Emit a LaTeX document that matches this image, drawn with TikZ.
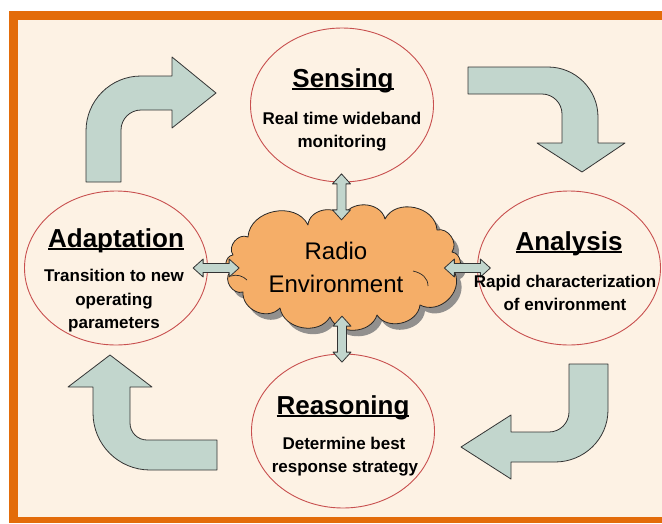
\documentclass[tikz,border=0pt]{standalone}
\usepackage{fontspec}
\setmainfont{Liberation Sans}
\usetikzlibrary{shapes.geometric,calc}
\definecolor{frameor}{HTML}{E36C0A}
\definecolor{cream}{HTML}{FDF2E4}
\definecolor{ellred}{HTML}{C8504F}
\definecolor{sage}{HTML}{C2D6CD}
\definecolor{cloudor}{HTML}{F5AE68}
\newlength\ulw
\newcommand\myul[1]{\settowidth\ulw{#1}\rlap{\rule[-2.6pt]{\ulw}{1.6pt}}#1}
\newcommand\cloudpath{(248,237) to[bend left=75,looseness=1.15] (308,225) to[bend left=75,looseness=1.15] (343,218)
  to[bend left=75,looseness=1.15] (385,219) to[bend left=75,looseness=1.15] (437,230)
  to[bend left=70,looseness=1.1] (452,252) to[bend left=75,looseness=1.15] (455,273)
  to[bend left=70,looseness=1.15] (420,305) to[bend left=70,looseness=1.1] (377,315)
  to[bend left=70,looseness=1.1] (330,317) to[bend left=70,looseness=1.1] (280,308)
  to[bend left=70,looseness=1.15] (243,292) to[bend left=75,looseness=1.15] (230,272)
  to[bend left=75,looseness=1.15] (233,255) to[bend left=75,looseness=1.15] (248,237) -- cycle}
\begin{document}
\begin{tikzpicture}[x=1pt,y=-1pt,
  stage/.style={ellipse, draw=ellred, line width=0.9pt, fill=cream, minimum width=183pt, minimum height=154pt, inner sep=0pt},
  ttl/.style={anchor=base, font=\fontsize{26}{30}\selectfont\bfseries, inner sep=0pt},
  bodytxt/.style={anchor=base, font=\fontsize{17}{20}\selectfont\bfseries, inner sep=0pt},
  cloudtxt/.style={anchor=base, font=\fontsize{24}{28}\selectfont, inner sep=0pt},
  bigarrow/.style={draw=black!80, line width=0.8pt, fill=sage, line join=round},
  darrow/.pic={\draw[bigarrow] (-23,0) -- (-13,-9) -- (-13,-4.5) -- (13,-4.5) -- (13,-9) -- (23,0) -- (13,9) -- (13,4.5) -- (-13,4.5) -- (-13,9) -- cycle;}
]
\useasboundingbox (0,0) rectangle (662,523);
\fill[white] (0,0) rectangle (662,523);
\fill[frameor] (9,11) rectangle (662,523);
\fill[cream] (18,20) rectangle (662,517);

% stages
\node[stage] (sens) at (342,105) {};
\node[stage] (anal) at (569,268) {};
\node[stage] (adapt) at (116,268) {};
\node[stage] (reas) at (343,431) {};

% cloud
\node[ellipse, minimum width=233pt, minimum height=113pt, inner sep=0pt] (cloud) at (341,268) {};
\fill[black!50, opacity=0.85, shift={(5,6)}] \cloudpath;
\draw[black!85, line width=0.8pt, fill=cloudor, line join=round] \cloudpath;
\draw[black!85, line width=0.7pt] (231,276) .. controls (237,274) and (243,276) .. (247,280);
\draw[black!85, line width=0.7pt] (413,271) .. controls (422,273) and (428,278) .. (428,286);

% double arrows
\pic[rotate=90] at ($(sens.south)!0.5!(cloud.north)$) {darrow};
\pic[rotate=90] at ($(reas.north)!0.5!(cloud.south)$) {darrow};
\pic at ($(adapt.east)!0.5!(cloud.west)$) {darrow};
\pic at ($(anal.west)!0.5!(cloud.east)$) {darrow};

% texts
\node[cloudtxt] (rad1) at (336,259) {Radio};
\node[cloudtxt] (rad2) at (336,292) {Environment};

\node[ttl] (senst) at (343,87) {\myul{Sensing}};
\node[bodytxt] (sens1) at (342,124) {Real time wideband};
\node[bodytxt] (sens2) at (342,147) {monitoring};

\node[ttl] (analt) at (569,250) {\myul{Analysis}};
\node[bodytxt] (anal1) at (565,287) {Rapid characterization};
\node[bodytxt] (anal2) at (565,310) {of environment};

\node[ttl] (adaptt) at (116,247) {\myul{Adaptation}};
\node[bodytxt] (adapt1) at (114,281) {Transition to new};
\node[bodytxt] (adapt2) at (114,305) {operating};
\node[bodytxt] (adapt3) at (114,328) {parameters};

\node[ttl] (reast) at (343,414) {\myul{Reasoning}};
\node[bodytxt] (reas1) at (344,449) {Determine best};
\node[bodytxt] (reas2) at (345,472) {response strategy};

% big bent arrows
\draw[bigarrow] (86,182) -- (86,131) .. controls (86,100.6) and (110.6,76) .. (141,76)
  -- (172,76) -- (172,57) -- (216,93) -- (172,128) -- (172,110) -- (141,110)
  .. controls (130,110) and (121,119) .. (121,130) -- (121,182) -- cycle;
\draw[bigarrow] (468,67) -- (548,67) .. controls (575.6,67) and (598,89.4) .. (598,117)
  -- (598,143) -- (625,143) -- (582,172) -- (537,143) -- (562,143) -- (562,114)
  .. controls (562,103) and (553,94) .. (542,94) -- (468,94) -- cycle;
\draw[bigarrow] (569,364) -- (608,364) -- (608,410) .. controls (608,439) and (584,462) .. (555,462)
  -- (511,462) -- (511,479) -- (461,447) -- (511,415) -- (511,432) -- (549,432)
  .. controls (560,432) and (569,423) .. (569,412) -- cycle;
\draw[bigarrow] (217,440) -- (217,470) -- (150,470) .. controls (118.5,470) and (93,444.5) .. (93,413)
  -- (93,387) -- (68,387) -- (110,355) -- (152,387) -- (130,387) -- (130,423)
  .. controls (130,432.4) and (137.6,440) .. (147,440) -- cycle;
\end{tikzpicture}
\end{document}
